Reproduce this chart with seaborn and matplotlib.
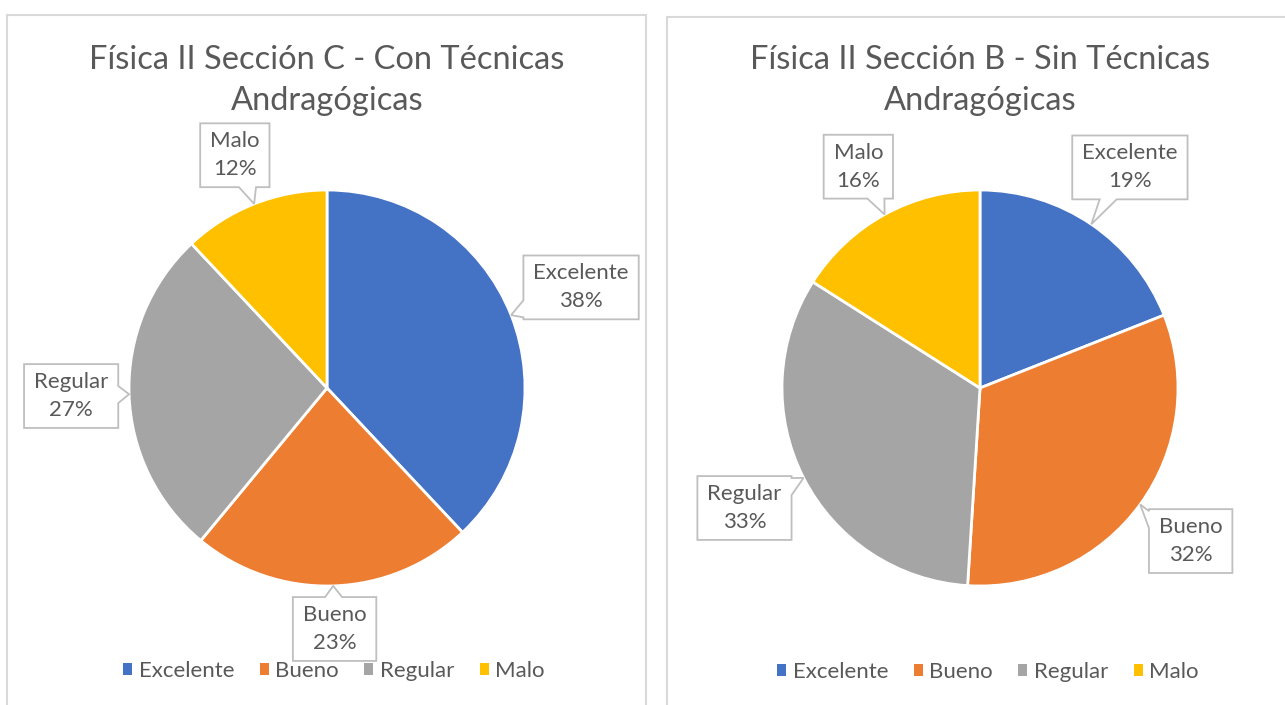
import numpy as np
import matplotlib
matplotlib.use("Agg")
import matplotlib.pyplot as plt
from matplotlib.patches import Polygon, Rectangle, Patch
import seaborn as sns

# ---------------- data ----------------
categories = ["Excelente", "Bueno", "Regular", "Malo"]
values_c = [38, 23, 27, 12]
values_b = [19, 32, 33, 16]
title_c = "Física II Sección C - Con Técnicas\nAndragógicas"
title_b = "Física II Sección B - Sin Técnicas\nAndragógicas"
colors = ["#4472C4", "#ED7D31", "#A5A5A5", "#FFC000"]

# ---------------- style ----------------
sns.set_theme(style="white")
palette = sns.color_palette(colors)
plt.rcParams["font.family"] = ["Lato", "DejaVu Sans"]

W, H = 1285, 705
TEXT = "#595959"
BORDER = "#D9D9D9"
LABEL_FS = 16
TITLE_FS = 23.5

fig = plt.figure(figsize=(W / 100, H / 100), dpi=100)
fig.patch.set_facecolor("white")


def px_rect(x0, y0, x1, y1):
    return Rectangle((x0 / W, 1 - y1 / H), (x1 - x0) / W, (y1 - y0) / H,
                     transform=fig.transFigure, fill=False,
                     edgecolor=BORDER, lw=1.5, zorder=0)


def callout(ax, cx, cy, hw, hh, tx, ty, base=0.043):
    x0, x1, y0, y1 = cx - hw, cx + hw, cy - hh, cy + hh
    dx, dy = tx - cx, ty - cy
    tvx = hw / abs(dx) if dx != 0 else np.inf
    tvy = hh / abs(dy) if dy != 0 else np.inf
    if tvx < tvy:
        py = cy + dy * tvx
        py = min(max(py, y0 + base + 0.01), y1 - base - 0.01)
        if dx > 0:
            pts = [(x0, y0), (x1, y0), (x1, py - base), (tx, ty), (x1, py + base), (x1, y1), (x0, y1)]
        else:
            pts = [(x0, y0), (x1, y0), (x1, y1), (x0, y1), (x0, py + base), (tx, ty), (x0, py - base)]
    else:
        px = cx + dx * tvy
        px = min(max(px, x0 + base + 0.01), x1 - base - 0.01)
        if dy > 0:
            pts = [(x0, y0), (x1, y0), (x1, y1), (px + base, y1), (tx, ty), (px - base, y1), (x0, y1)]
        else:
            pts = [(x0, y0), (px - base, y0), (tx, ty), (px + base, y0), (x1, y0), (x1, y1), (x0, y1)]
    ax.add_patch(Polygon(pts, closed=True, facecolor="white", edgecolor="#BFBFBF",
                         lw=1.3, zorder=3))


def draw_pie(box, center, R, values, title, legend_xy, title_xy):
    x0, y0, x1, y1 = box
    cx, cy = center
    ax = fig.add_axes([x0 / W, 1 - y1 / H, (x1 - x0) / W, (y1 - y0) / H])
    wedges, _ = ax.pie(values, colors=palette, startangle=90, counterclock=False,
                       radius=1.0, center=(0, 0),
                       wedgeprops=dict(edgecolor="white", linewidth=2))
    ax.set_aspect("auto")
    ax.set_xlim((x0 - cx) / R, (x1 - cx) / R)
    ax.set_ylim((cy - y1) / R, (cy - y0) / R)
    ax.axis("off")
    renderer = fig.canvas.get_renderer()
    total = float(sum(values))
    start = 90.0
    gap = 0.05
    for v, lab in zip(values, categories):
        frac = v / total
        mid = np.deg2rad(start - frac * 180)
        start -= frac * 360
        ux, uy = np.cos(mid), np.sin(mid)
        t = ax.text(0, 0, f"{lab}\n{frac * 100:.0f}%", ha="center", va="center",
                    fontsize=LABEL_FS, color=TEXT, linespacing=1.5, zorder=4)
        bb = t.get_window_extent(renderer).transformed(ax.transData.inverted())
        hw = bb.width / 2 + 0.05
        hh = bb.height / 2 + 0.04
        s = hw * abs(ux) + hh * abs(uy)
        dist = 1.0 + gap + s
        lx, ly = dist * ux, dist * uy
        t.set_position((lx, ly))
        callout(ax, lx, ly, hw, hh, 1.0 * ux, 1.0 * uy)
    fig.text(title_xy[0] / W, 1 - title_xy[1] / H, title, ha="center", va="center",
             fontsize=TITLE_FS, color=TEXT, linespacing=1.49)
    handles = [Patch(facecolor=c, edgecolor="none") for c in palette]
    fig.legend(handles=handles, labels=categories, loc="center",
               bbox_to_anchor=(legend_xy[0] / W, 1 - legend_xy[1] / H),
               bbox_transform=fig.transFigure, ncol=4, frameon=False,
               fontsize=LABEL_FS, labelcolor=TEXT, handlelength=0.4,
               handleheight=0.4, handletextpad=0.3, columnspacing=1.15)
    return ax


fig.add_artist(px_rect(7, 15, 646, 720))
fig.add_artist(px_rect(667, 17, 1300, 720))

draw_pie((7, 15, 646, 705), (327, 388), 198, values_c, title_c, (334, 671), (327, 80.5))
draw_pie((667, 17, 1285, 705), (980, 388), 198, values_b, title_b, (988, 672), (980, 80.5))

fig.savefig("out.png", dpi=100, facecolor="white")
